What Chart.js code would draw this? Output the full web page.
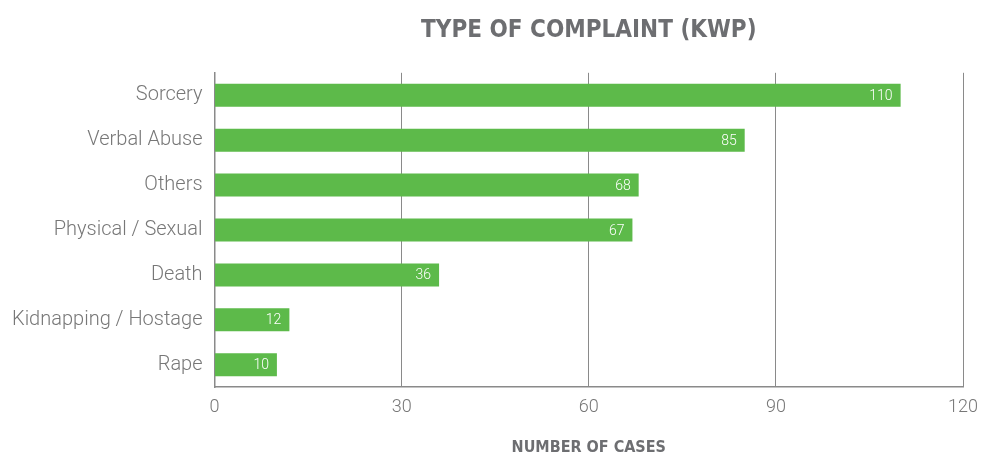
<!DOCTYPE html>
<html>
<head>
<meta charset="utf-8">
<script src="https://cdn.jsdelivr.net/npm/chart.js@4/dist/chart.umd.min.js"></script>
<style>
  html, body { margin: 0; padding: 0; background: #fff; }
  #wrap { width: 983px; height: 460px; }
</style>
</head>
<body>
<div id="wrap"><canvas id="complaints"></canvas></div>
<script>
/* ─── data ─────────────────────────────────────────── */
const categories = ['Sorcery', 'Verbal Abuse', 'Others', 'Physical / Sexual', 'Death', 'Kidnapping / Hostage', 'Rape'];
const cases = [110, 85, 68, 67, 36, 12, 10];
const xTicks = [0, 30, 60, 90, 120];

const GREEN = '#5dba4a';
const GREY = '#6d6e71';
const HEAD_FONT = "'DejaVu Sans Condensed', 'DejaVu Sans', sans-serif";

/* white value label just inside the end of each bar */
const barValues = {
  id: 'barValues',
  afterDatasetsDraw(chart) {
    const { ctx } = chart;
    const meta = chart.getDatasetMeta(0);
    ctx.save();
    ctx.font = '300 14px Roboto';
    ctx.fillStyle = '#fff';
    ctx.textAlign = 'right';
    ctx.textBaseline = 'middle';
    meta.data.forEach((bar, i) => {
      ctx.fillText(cases[i], bar.x - 8, bar.y + 1);
    });
    ctx.restore();
  }
};

new Chart(document.getElementById('complaints'), {
  type: 'bar',
  data: {
    labels: categories,
    datasets: [{
      data: cases,
      backgroundColor: GREEN,
      borderWidth: 0,
      barPercentage: 0.64,
      categoryPercentage: 0.8
    }]
  },
  options: {
    indexAxis: 'y',
    responsive: true,
    maintainAspectRatio: false,
    animation: false,
    layout: { padding: { left: 0, right: 20, top: 0, bottom: 0 } },
    scales: {
      x: {
        min: 0,
        max: 120,
        afterBuildTicks: axis => { axis.ticks = xTicks.map(v => ({ value: v })); },
        afterFit: axis => { axis.paddingRight = 0; },   // let "120" hang into the margin
        grid: { color: '#8a8a8a', lineWidth: 1, drawTicks: false },
        border: { color: '#8a8a8a', width: 1.5 },
        ticks: { color: '#777', padding: 9, font: { family: 'Roboto', weight: '300', size: 18 } },
        title: {
          display: true,
          text: 'NUMBER OF CASES',
          color: GREY,
          padding: { top: 11, bottom: 3 },
          font: { family: HEAD_FONT, weight: 'bold', size: 16 }
        }
      },
      y: {
        grid: { display: false, drawTicks: false },
        border: { color: '#8a8a8a', width: 1.5 },
        ticks: { color: '#777', padding: 12, font: { family: 'Roboto', weight: '300', size: 20 } }
      }
    },
    plugins: {
      legend: { display: false },
      tooltip: { enabled: false },
      title: {
        display: true,
        fullSize: false,
        text: 'TYPE OF COMPLAINT (KWP)',
        color: GREY,
        padding: { top: 16, bottom: 28 },
        font: { family: HEAD_FONT, weight: 'bold', size: 24 }
      }
    }
  },
  plugins: [barValues]
});
</script>
</body>
</html>
